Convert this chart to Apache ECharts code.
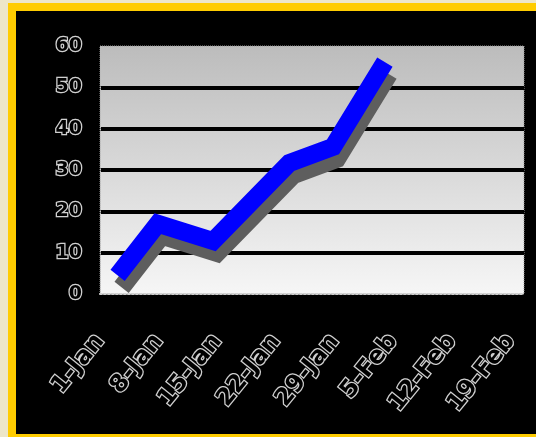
<!DOCTYPE html>
<html>
<head>
<meta charset="utf-8">
<script src="https://cdn.jsdelivr.net/npm/echarts@6/dist/echarts.min.js"></script>
<style>
html,body{margin:0;padding:0;background:#ede6c8;width:536px;height:437px;overflow:hidden;}
#frame{position:absolute;left:8px;top:3px;width:540px;height:440px;background:#ffcc00;}
#chart{position:absolute;left:16px;top:11px;width:520px;height:423px;background:#000;}
</style>
</head>
<body>
<div id="frame"></div>
<div id="chart"></div>
<script>
// Tick labels on the date axis (one per week, starting 1-Jan)
var tickLabels = ['1-Jan', '8-Jan', '15-Jan', '22-Jan', '29-Jan', '5-Feb', '12-Feb', '19-Feb'];
// Days since 1-Jan for each data point
var days = [2.1, 6.9, 13.5, 22.6, 27.8, 34.0];
// Series values
var values = [4.5, 17, 12.8, 31.7, 35.6, 56.1];
var yTicks = [0, 10, 20, 30, 40, 50, 60];

var seriesData = days.map(function (d, i) { return [d, values[i]]; });

function hollow(size) {
  return {
    color: '#000',
    textBorderColor: '#d0d0d0',
    textBorderWidth: 2.5,
    fontFamily: 'DejaVu Sans, sans-serif',
    fontWeight: 'bold',
    fontSize: size
  };
}

var chart = echarts.init(document.getElementById('chart'));
chart.setOption({
  backgroundColor: '#000',
  animation: false,
  grid: {
    left: 84, right: 12, top: 35, bottom: 140,
    show: true,
    borderColor: '#9a9a9a',
    borderWidth: 1,
    borderType: 'dotted',
    backgroundColor: {
      type: 'linear', x: 0, y: 0, x2: 0, y2: 1,
      colorStops: [{ offset: 0, color: '#bcbcbc' }, { offset: 1, color: '#f6f6f6' }]
    }
  },
  xAxis: {
    type: 'value',
    min: 0, max: 50.6, interval: 7,
    offset: 3,
    splitLine: { show: false },
    axisTick: { show: false },
    axisLine: { show: true, lineStyle: { color: '#d0d0d0', width: 2, type: 'dotted' } },
    axisLabel: Object.assign({
      rotate: 51,
      margin: 40,
      showMaxLabel: false,
      formatter: function (v) {
        var i = Math.round(v / 7);
        return (Math.abs(v - i * 7) < 1e-6 && tickLabels[i]) ? tickLabels[i] : '';
      }
    }, hollow(24))
  },
  yAxis: {
    type: 'value',
    min: yTicks[0], max: yTicks[yTicks.length - 1], interval: 10,
    axisLine: { show: true, lineStyle: { color: '#bdbdbd', type: 'dotted' } },
    axisTick: { show: false },
    splitLine: { show: true, showMinLine: false, showMaxLine: false, lineStyle: { color: '#000', width: 4 } },
    axisLabel: Object.assign({ margin: 18 }, hollow(19))
  },
  series: [{
    type: 'line',
    data: seriesData,
    symbol: 'none',
    lineStyle: {
      color: '#0000ff',
      width: 18,
      join: 'miter',
      cap: 'butt',
      shadowColor: '#5e5e5e',
      shadowBlur: 0,
      shadowOffsetX: 4,
      shadowOffsetY: 12
    }
  }]
});
</script>
</body>
</html>
